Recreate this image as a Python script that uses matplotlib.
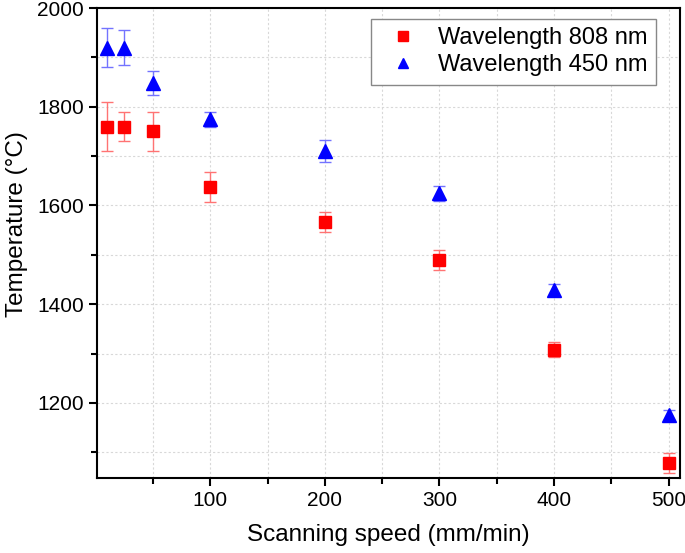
import matplotlib
matplotlib.use('Agg')
import matplotlib.pyplot as plt
from matplotlib.ticker import MultipleLocator

plt.rcParams['font.family'] = ['Liberation Sans', 'DejaVu Sans']

speed = [10, 25, 50, 100, 200, 300, 400, 500]
temp_808 = [1760, 1760, 1750, 1638, 1567, 1490, 1308, 1078]
err_808 = [50, 30, 40, 30, 20, 20, 15, 20]
temp_450 = [1920, 1920, 1848, 1775, 1710, 1625, 1428, 1175]
err_450 = [40, 35, 25, 15, 22, 15, 12, 10]

fig = plt.figure(figsize=(6.85, 5.53), dpi=100)
ax = fig.add_axes([0.1416, 0.1356, 0.8511, 0.8499])

ax.errorbar(speed, temp_808, yerr=err_808, fmt='none', ecolor=(1, 0.45, 0.45),
            elinewidth=1, capsize=4, capthick=1)
ax.errorbar(speed, temp_450, yerr=err_450, fmt='none', ecolor=(0.45, 0.45, 1),
            elinewidth=1, capsize=4, capthick=1)
ax.plot(speed, temp_808, 's', color='#ff0000', ms=9, label='Wavelength 808 nm')
ax.plot(speed, temp_450, '^', color='#0000ff', ms=10, label='Wavelength 450 nm')

ax.set_xlim(1, 510)
ax.set_ylim(1048, 2000)
ax.xaxis.set_major_locator(MultipleLocator(100))
ax.xaxis.set_minor_locator(MultipleLocator(50))
ax.yaxis.set_major_locator(MultipleLocator(200))
ax.yaxis.set_minor_locator(MultipleLocator(100))
ax.grid(True, which='both', ls=(0, (2, 2)), color='#d8d8d8', lw=0.8)
ax.set_axisbelow(True)

for s in ax.spines.values():
    s.set_linewidth(1.5)
ax.tick_params(which='major', direction='out', length=6, width=1.5, labelsize=15)
ax.tick_params(which='minor', direction='out', length=4, width=1.5)

ax.set_xlabel('Scanning speed (mm/min)', fontsize=17.5, labelpad=10)
ax.set_ylabel('Temperature (°C)', fontsize=17.5)
ax.yaxis.set_label_coords(-0.118, 0.54)

leg = ax.legend(loc='upper right', fontsize=17, fancybox=False, edgecolor='#888888',
                framealpha=1, handletextpad=0.5, borderaxespad=0,
                borderpad=0.35, labelspacing=0.22, markerscale=0.75,
                bbox_to_anchor=(0.959, 0.977))
leg.get_frame().set_linewidth(1)

fig.savefig('out.png', dpi=100)
